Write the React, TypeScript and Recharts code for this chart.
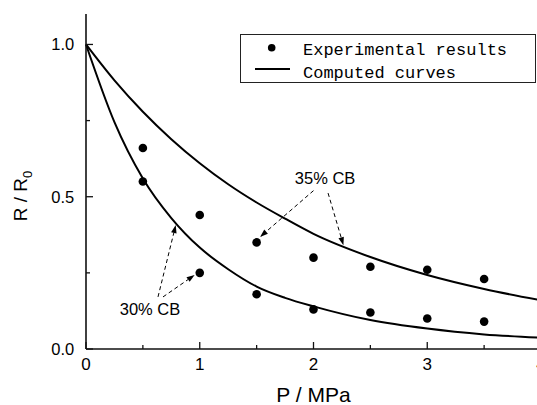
import React from 'react';
import {
  ComposedChart,
  Line,
  Scatter,
  XAxis,
  YAxis,
  ReferenceLine,
  ReferenceDot,
  Legend,
} from 'recharts';

// ---- data ----
const xTicks = [0, 0.5, 1, 1.5, 2, 2.5, 3, 3.5, 4];
const yTicks = [0, 0.25, 0.5, 0.75, 1.0];

const expP = [0.5, 1, 1.5, 2, 2.5, 3, 3.5];
const exp30 = [0.55, 0.25, 0.18, 0.13, 0.12, 0.1, 0.09];
const exp35 = [0.66, 0.44, 0.35, 0.3, 0.27, 0.26, 0.23];

const curveP = [0, 0.25, 0.5, 0.75, 1, 1.25, 1.5, 1.75, 2, 2.5, 3, 3.5, 4];
const curve30 = [1.0, 0.745, 0.56, 0.43, 0.333, 0.262, 0.205, 0.168, 0.14, 0.095, 0.067, 0.048, 0.037];
const curve35 = [1.0, 0.882, 0.779, 0.689, 0.61, 0.541, 0.481, 0.428, 0.378, 0.302, 0.243, 0.197, 0.16];

const legendLabels = ['Experimental results', 'Computed curves'];

// annotation arrows: [fromX, fromY, toX, toY]
const arrows35 = [
  [2.0, 0.52, 1.53, 0.368],
  [2.128, 0.512, 2.263, 0.341],
];
const arrows30 = [
  [0.633, 0.171, 0.789, 0.407],
  [0.677, 0.171, 0.955, 0.243],
];
const label35 = { x: 2.102, y: 0.561, text: '35% CB' };
const label30 = { x: 0.563, y: 0.131, text: '30% CB' };

const expData30 = expP.map((p, i) => ({ p, v: exp30[i] }));
const expData35 = expP.map((p, i) => ({ p, v: exp35[i] }));
const curveData30 = curveP.map((p, i) => ({ p, v: curve30[i] }));
const curveData35 = curveP.map((p, i) => ({ p, v: curve35[i] }));

const SANS = '"Liberation Sans", Arial, sans-serif';
const MONO = '"Liberation Mono", monospace';
const AX = '#111';

const isMajor = (v: number) => Math.abs(v - Math.round(v * 2) / 2) < 1e-9 && Math.abs((v * 2) % 2) < 1e-9;

const BottomTick = (props: any) => {
  const { x, y, payload } = props;
  const major = Number.isInteger(payload.value);
  return (
    <g>
      <line x1={x} y1={y} x2={x} y2={y - (major ? 7 : 4)} stroke={AX} strokeWidth={1.3} />
      {major && payload.value < 4 ? (
        <text x={x} y={y + 21} textAnchor="middle" fontSize={17} fontFamily={SANS} fill="#000">
          {payload.value}
        </text>
      ) : major ? (
        <text x={x} y={y + 21} textAnchor="middle" fontSize={17} fontFamily={SANS} fill="#000">
          {payload.value}
        </text>
      ) : null}
    </g>
  );
};

const TopTick = (props: any) => {
  const { x, y, payload } = props;
  const major = Number.isInteger(payload.value);
  return <line x1={x} y1={y} x2={x} y2={y + (major ? 7 : 4)} stroke={AX} strokeWidth={1.3} />;
};

const LeftTick = (props: any) => {
  const { x, y, payload } = props;
  const v = payload.value;
  const major = Math.abs(v * 2 - Math.round(v * 2)) < 1e-9;
  return (
    <g>
      <line x1={x} y1={y} x2={x + (major ? 7 : 4)} y2={y} stroke={AX} strokeWidth={1.3} />
      {major ? (
        <text x={x - 11.7} y={y + 6} textAnchor="end" fontSize={16.5} fontFamily={SANS} fill="#000">
          {v.toFixed(1)}
        </text>
      ) : null}
    </g>
  );
};

const RightTick = (props: any) => {
  const { x, y, payload } = props;
  const v = payload.value;
  const major = Math.abs(v * 2 - Math.round(v * 2)) < 1e-9;
  return <line x1={x} y1={y} x2={x - (major ? 7 : 4)} y2={y} stroke={AX} strokeWidth={1.3} />;
};

const Arrow = (props: any) => {
  const { x1, y1, x2, y2 } = props;
  const dx = x2 - x1;
  const dy = y2 - y1;
  const len = Math.sqrt(dx * dx + dy * dy) || 1;
  const ux = dx / len;
  const uy = dy / len;
  const hl = 8;
  const hw = 2.8;
  const bx = x2 - ux * hl;
  const by = y2 - uy * hl;
  const px = -uy * hw;
  const py = ux * hw;
  return (
    <g>
      <line x1={x1} y1={y1} x2={bx} y2={by} stroke="#000" strokeWidth={1} strokeDasharray="4 3" />
      <polygon points={`${x2},${y2} ${bx + px},${by + py} ${bx - px},${by - py}`} fill="#000" />
    </g>
  );
};

const Dot = (props: any) => <circle cx={props.cx} cy={props.cy} r={4.3} fill="#000" />;

const LegendBox = () => (
  <div
    style={{
      width: 296,
      height: 49,
      boxSizing: 'border-box',
      border: '1.3px solid #222',
      background: '#fff',
    }}
  >
    <svg width={294} height={47} style={{ display: 'block' }}>
      <circle cx={30.7} cy={12.7} r={3.8} fill="#000" />
      <line x1={14} x2={49} y1={34} y2={34} stroke="#000" strokeWidth={2} />
      <text x={62} y={19.5} fontSize={17} fontFamily={MONO} fill="#000">
        {legendLabels[0]}
      </text>
      <text x={62} y={42.5} fontSize={17} fontFamily={MONO} fill="#000">
        {legendLabels[1]}
      </text>
    </svg>
  </div>
);

const YLabel = (props: any) => {
  const vb = props.viewBox || { x: 0, y: 14, width: 86, height: 335 };
  const cx = vb.x + 27;
  const cy = 196;
  return (
    <text
      x={cx}
      y={cy}
      transform={`rotate(-90, ${cx}, ${cy})`}
      textAnchor="middle"
      fontSize={19}
      fontFamily={SANS}
      fill="#000"
    >
      R / R<tspan dy={5} fontSize={13}>0</tspan>
    </text>
  );
};

const XLabel = (props: any) => {
  const vb = props.viewBox || { x: 86, y: 349, width: 455, height: 56 };
  return (
    <text
      x={vb.x + vb.width / 2}
      y={vb.y + 53}
      textAnchor="middle"
      fontSize={21}
      fontFamily={SANS}
      fill="#000"
    >
      P / MPa
    </text>
  );
};

export default function App() {
  const axisLine = { stroke: AX, strokeWidth: 1.6 };
  return (
    <div
      style={{
        position: 'absolute',
        left: 0,
        top: 0,
        width: 537,
        height: 405,
        overflow: 'hidden',
        background: '#fff',
      }}
    >
      <ComposedChart width={560} height={405} margin={{ top: 14, right: 19, bottom: 0, left: 0 }}>
        <XAxis
          xAxisId={0}
          dataKey="p"
          type="number"
          domain={[0, 4]}
          ticks={xTicks}
          interval={0}
          height={56}
          tickSize={0}
          tickMargin={0}
          tickLine={false}
          axisLine={axisLine}
          tick={<BottomTick />}
          label={<XLabel />}
        />
        <XAxis
          xAxisId="top"
          orientation="top"
          type="number"
          domain={[0, 4]}
          ticks={xTicks}
          interval={0}
          height={0}
          tickSize={0}
          tickMargin={0}
          tickLine={false}
          axisLine={axisLine}
          tick={<TopTick />}
        />
        <YAxis
          yAxisId={0}
          type="number"
          domain={[0, 1.1]}
          ticks={yTicks}
          interval={0}
          width={86}
          tickSize={0}
          tickMargin={0}
          tickLine={false}
          axisLine={axisLine}
          tick={<LeftTick />}
          label={<YLabel />}
        />
        <YAxis
          yAxisId="right"
          orientation="right"
          type="number"
          domain={[0, 1.1]}
          ticks={yTicks}
          interval={0}
          width={0}
          tickSize={0}
          tickMargin={0}
          tickLine={false}
          axisLine={axisLine}
          tick={<RightTick />}
        />
        <Legend
          layout="vertical"
          align="center"
          verticalAlign="middle"
          wrapperStyle={{ left: 240, top: 34, width: 296, height: 49 }}
          content={<LegendBox />}
        />
        <Line
          data={curveData35}
          dataKey="v"
          type="monotone"
          stroke="#000"
          strokeWidth={2}
          dot={false}
          activeDot={false}
          isAnimationActive={false}
        />
        <Line
          data={curveData30}
          dataKey="v"
          type="monotone"
          stroke="#000"
          strokeWidth={2}
          dot={false}
          activeDot={false}
          isAnimationActive={false}
        />
        <Scatter data={expData35} dataKey="v" shape={<Dot />} isAnimationActive={false} />
        <Scatter data={expData30} dataKey="v" shape={<Dot />} isAnimationActive={false} />
        {[...arrows35, ...arrows30].map((a, i) => (
          <ReferenceLine
            key={'ar' + i}
            segment={[
              { x: a[0], y: a[1] },
              { x: a[2], y: a[3] },
            ]}
            shape={<Arrow />}
            ifOverflow="visible"
          />
        ))}
        {[label35, label30].map((l, i) => (
          <ReferenceDot
            key={'lb' + i}
            x={l.x}
            y={l.y}
            r={0}
            ifOverflow="visible"
            shape={(p: any) => (
              <text
                x={p.cx}
                y={p.cy}
                dy={6}
                textAnchor="middle"
                fontSize={16.5}
                fontFamily={SANS}
                fill="#000"
              >
                {l.text}
              </text>
            )}
          />
        ))}
      </ComposedChart>
    </div>
  );
}
